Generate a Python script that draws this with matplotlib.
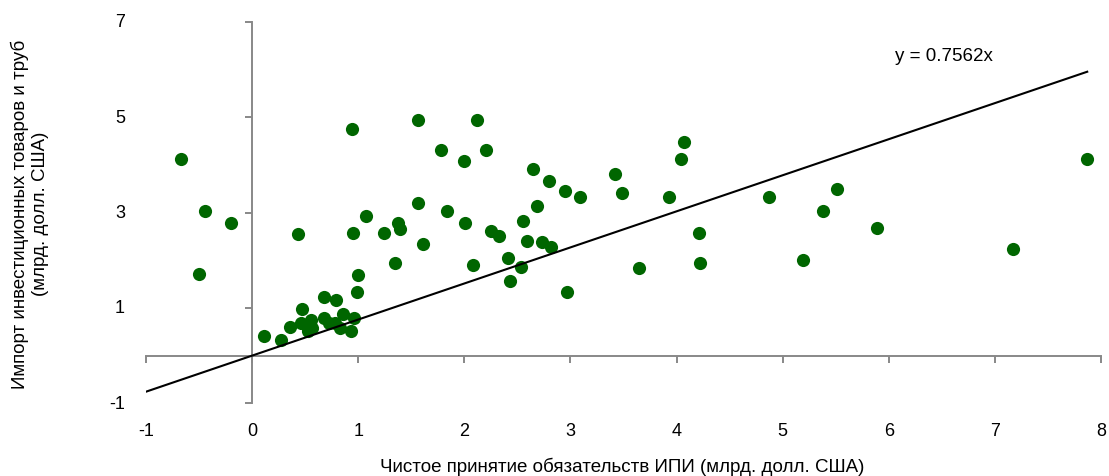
import numpy as np
import matplotlib
matplotlib.use("Agg")
import matplotlib.pyplot as plt
import matplotlib.transforms as mtransforms

# Данные (оценены по рисунку)
x_vals = [-0.67, -0.44, -0.20, -0.50, 0.11, 0.27, 0.43, 0.94, 1.56, 1.78,
          2.00, 2.12, 2.20, 2.65, 2.80, 2.95, 3.09, 3.42, 3.49, 3.93,
          4.07, 4.04, 4.21, 4.22, 3.65, 4.87, 5.38, 5.51, 5.19, 5.89,
          7.17, 7.87, 2.97, 2.68, 2.55, 2.59, 2.73, 2.82, 2.41, 2.53,
          2.43, 1.56, 1.84, 2.01, 2.25, 2.33, 2.08, 1.61, 1.35, 1.37,
          1.39, 1.24, 1.07, 0.95, 1.00, 0.99, 0.68, 0.79, 0.47, 0.36,
          0.46, 0.55, 0.53, 0.56, 0.68, 0.72, 0.78, 0.86, 0.83, 0.93,
          0.96]
y_vals = [4.12, 3.04, 2.77, 1.72, 0.42, 0.32, 2.54, 4.76, 4.93, 4.31,
          4.08, 4.93, 4.31, 3.91, 3.67, 3.46, 3.33, 3.81, 3.41, 3.32,
          4.48, 4.12, 2.58, 1.94, 1.83, 3.32, 3.04, 3.49, 2.01, 2.68,
          2.24, 4.13, 1.33, 3.14, 2.82, 2.40, 2.38, 2.28, 2.04, 1.86,
          1.56, 3.20, 3.04, 2.77, 2.62, 2.50, 1.89, 2.33, 1.94, 2.77,
          2.66, 2.57, 2.92, 2.58, 1.70, 1.33, 1.23, 1.17, 0.98, 0.60,
          0.68, 0.74, 0.51, 0.58, 0.79, 0.68, 0.68, 0.87, 0.58, 0.51,
          0.78]
slope = 0.7562
x_ticks = [-1, 0, 1, 2, 3, 4, 5, 6, 7, 8]
y_ticks = [-1, 1, 3, 5, 7]

plt.rcParams['font.family'] = ['Liberation Sans', 'DejaVu Sans']

fig = plt.figure(figsize=(11.09, 4.77), dpi=100)
ax = fig.add_axes([0.1317, 0.1524, 0.8611, 0.8])

ax.scatter(x_vals, y_vals, s=90, color='#006600', zorder=3, linewidths=0)

# линия тренда через начало координат
xl = np.array([-1, max(x_vals)])
ax.plot(xl, slope * xl, color='black', lw=1.5, zorder=4)
ax.text(895, 7 - (56 - 22.7) / 47.7, "y = 0.7562x", fontsize=13.5,
        va='center', ha='left',
        transform=mtransforms.blended_transform_factory(
            mtransforms.IdentityTransform(), ax.transData))

ax.set_xlim(-1, 8)
ax.set_ylim(-1, 7)
for s in ['top', 'right']:
    ax.spines[s].set_visible(False)
ax.spines['left'].set_position(('data', 0))
ax.spines['bottom'].set_position(('data', 0))
for s in ['left', 'bottom']:
    ax.spines[s].set_color('#888888')
    ax.spines[s].set_linewidth(1.4)
ax.set_xticks(x_ticks)
ax.set_yticks(y_ticks)
ax.tick_params(direction='out', length=5, width=1.4, color='#888888',
               labelleft=False, labelbottom=False)

# подписи делений по краям области
tb = mtransforms.blended_transform_factory(ax.transData, ax.transAxes)
for t in x_ticks:
    ax.text(t, -0.07, str(t), transform=tb, ha='center', va='center',
            fontsize=13)
tl = mtransforms.blended_transform_factory(ax.transAxes, ax.transData)
for t in y_ticks:
    ax.text(-0.022, t, str(t), transform=tl, ha='right', va='center',
            fontsize=13)

fig.text(622 / 1109, 1 - 467 / 477,
         "Чистое принятие обязательств ИПИ (млрд. долл. США)",
         ha='center', va='center', fontsize=13.5)
fig.text(30 / 1109, 1 - 214 / 477,
         "Импорт инвестиционных товаров и труб\n(млрд. долл. США)",
         ha='center', va='center', rotation=90, fontsize=13.5,
         linespacing=1.25)

fig.savefig("out.png", dpi=100)
